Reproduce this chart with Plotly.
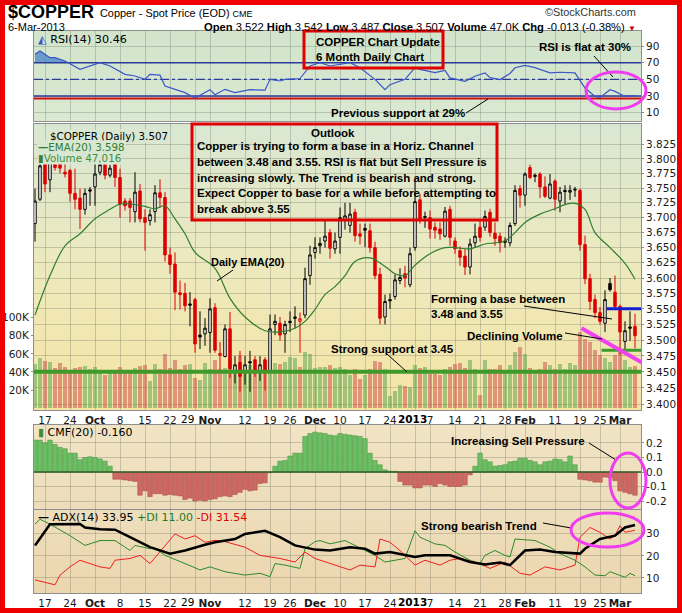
import math
import plotly.graph_objects as go

# ---------------- figure geometry (pixels) ----------------
W, H = 682, 613
PL, PR = 34, 641
PW = PR - PL


def fx(px):
    return (px - PL) / PW


def fy(py):
    return 1 - py / H


# ---------------- data ----------------
FIRST_DAY = -2  # trading-day index of Sep 13 2012 (index 0 = Sep 17 2012)

opens = [3.690, 3.731, 3.800, 3.764, 3.800, 3.797, 3.777, 3.780, 3.741, 3.733,
         3.714, 3.747, 3.752, 3.777, 3.790, 3.772, 3.791, 3.768, 3.728, 3.728,
         3.710, 3.745, 3.700, 3.695, 3.710, 3.742, 3.734, 3.638, 3.623, 3.576,
         3.575, 3.558, 3.565, 3.508, 3.510, 3.512, 3.552, 3.476, 3.474, 3.518,
         3.452, 3.465, 3.452, 3.466, 3.469, 3.452, 3.469, 3.452, 3.525, 3.527,
         3.510, 3.530, 3.537, 3.530, 3.540, 3.604, 3.642, 3.653, 3.661, 3.675,
         3.648, 3.667, 3.695, 3.687, 3.709, 3.673, 3.682, 3.678, 3.650, 3.606,
         3.537, 3.565, 3.570, 3.596, 3.607, 3.589, 3.650, 3.730, 3.700, 3.700,
         3.684, 3.681, 3.669, 3.714, 3.661, 3.645, 3.636, 3.618, 3.658, 3.684,
         3.684, 3.709, 3.674, 3.669, 3.661, 3.658, 3.690, 3.749, 3.738, 3.785,
         3.772, 3.774, 3.752, 3.733, 3.762, 3.728, 3.746, 3.743, 3.748, 3.746,
         3.655, 3.599, 3.565, 3.544, 3.527, 3.591, 3.577, 3.554, 3.498, 3.521,
         3.522]
highs = [3.749, 3.810, 3.815, 3.805, 3.815, 3.810, 3.800, 3.783, 3.783, 3.749,
         3.749, 3.752, 3.791, 3.805, 3.805, 3.790, 3.808, 3.783, 3.733, 3.733,
         3.777, 3.757, 3.714, 3.714, 3.755, 3.765, 3.743, 3.650, 3.642, 3.596,
         3.592, 3.577, 3.568, 3.546, 3.535, 3.567, 3.559, 3.497, 3.525, 3.545,
         3.475, 3.483, 3.475, 3.483, 3.475, 3.475, 3.473, 3.541, 3.541, 3.537,
         3.531, 3.546, 3.554, 3.544, 3.617, 3.653, 3.667, 3.667, 3.695, 3.681,
         3.675, 3.717, 3.725, 3.725, 3.715, 3.690, 3.690, 3.690, 3.660, 3.617,
         3.573, 3.575, 3.606, 3.616, 3.620, 3.650, 3.762, 3.740, 3.710, 3.712,
         3.692, 3.692, 3.718, 3.720, 3.667, 3.652, 3.648, 3.665, 3.690, 3.697,
         3.712, 3.715, 3.692, 3.675, 3.667, 3.692, 3.755, 3.755, 3.777, 3.790,
         3.775, 3.777, 3.770, 3.774, 3.765, 3.752, 3.755, 3.755, 3.752, 3.749,
         3.670, 3.607, 3.573, 3.553, 3.580, 3.600, 3.604, 3.557, 3.530, 3.546,
         3.542]
lows = [3.660, 3.728, 3.743, 3.743, 3.780, 3.775, 3.768, 3.727, 3.714, 3.681,
        3.705, 3.720, 3.720, 3.772, 3.765, 3.768, 3.752, 3.700, 3.712, 3.692,
        3.692, 3.692, 3.645, 3.687, 3.692, 3.717, 3.627, 3.607, 3.548, 3.549,
        3.546, 3.522, 3.480, 3.486, 3.491, 3.480, 3.480, 3.452, 3.473, 3.440,
        3.432, 3.419, 3.430, 3.419, 3.442, 3.436, 3.421, 3.450, 3.508, 3.499,
        3.480, 3.513, 3.519, 3.480, 3.535, 3.589, 3.632, 3.640, 3.650, 3.632,
        3.640, 3.640, 3.680, 3.675, 3.660, 3.655, 3.651, 3.642, 3.598, 3.525,
        3.525, 3.550, 3.565, 3.590, 3.585, 3.585, 3.645, 3.690, 3.683, 3.665,
        3.665, 3.663, 3.667, 3.653, 3.640, 3.620, 3.605, 3.606, 3.650, 3.660,
        3.678, 3.668, 3.653, 3.642, 3.650, 3.652, 3.686, 3.717, 3.720, 3.765,
        3.760, 3.733, 3.733, 3.731, 3.712, 3.709, 3.723, 3.730, 3.735, 3.645,
        3.590, 3.548, 3.535, 3.525, 3.513, 3.578, 3.548, 3.477, 3.486, 3.499,
        3.487]
closes = [3.728, 3.788, 3.757, 3.795, 3.785, 3.784, 3.774, 3.741, 3.731, 3.714,
          3.741, 3.745, 3.774, 3.790, 3.772, 3.784, 3.768, 3.723, 3.720, 3.717,
          3.743, 3.698, 3.692, 3.705, 3.742, 3.734, 3.638, 3.622, 3.577, 3.573,
          3.555, 3.556, 3.494, 3.505, 3.519, 3.550, 3.484, 3.479, 3.518, 3.455,
          3.461, 3.443, 3.461, 3.464, 3.452, 3.461, 3.452, 3.518, 3.530, 3.508,
          3.525, 3.528, 3.535, 3.534, 3.599, 3.638, 3.650, 3.657, 3.669, 3.649,
          3.661, 3.700, 3.703, 3.706, 3.670, 3.669, 3.679, 3.650, 3.604, 3.535,
          3.562, 3.563, 3.597, 3.601, 3.600, 3.640, 3.727, 3.698, 3.702, 3.681,
          3.679, 3.673, 3.711, 3.667, 3.648, 3.634, 3.618, 3.656, 3.669, 3.667,
          3.702, 3.675, 3.665, 3.658, 3.659, 3.687, 3.746, 3.738, 3.774, 3.768,
          3.770, 3.752, 3.736, 3.757, 3.731, 3.743, 3.744, 3.746, 3.747, 3.655,
          3.599, 3.562, 3.544, 3.530, 3.565, 3.581, 3.554, 3.513, 3.515, 3.519,
          3.507]
volume_k = [48.6, 56, 52, 50.5, 44.6, 49.4, 45.7, 42, 43.9, 45.7,
            46.8, 42.8, 45, 40, 36.5, 40, 38.4, 45.7, 42, 42,
            43.9, 46.4, 47.5, 30, 48.3, 42.8, 60.4, 44, 53.8, 43,
            47.5, 48.3, 33.6, 31, 50, 42.8, 53, 42.8, 44, 56.7,
            43, 58.5, 43, 47.5, 43, 42, 53, 53.8, 50, 48.6,
            51, 56.7, 55, 45.7, 62, 59.6, 44, 45, 46, 47.5,
            44, 45, 42.8, 36.5, 43, 31.8, 36.5, 42.8, 52, 51,
            42.8, 13.4, 19.3, 25.5, 24.4, 23.7, 47.5, 43.9, 45, 37.6,
            37.6, 36.5, 42.8, 45.8, 48.3, 49.4, 43.9, 53.8, 43, 14.5,
            53.8, 43, 43, 47.5, 42, 47.5, 62, 67.7, 59.6, 43.9,
            42, 43, 51, 47.5, 42.8, 48.6, 43, 49.4, 47.5, 84,
            77, 73, 64, 58.5, 56, 51, 58.5, 64.8, 53.8, 45.8,
            47.0]
cmf20 = [0.22, 0.22, 0.20, 0.22, 0.19, 0.17, 0.16, 0.13, 0.13, 0.085,
         0.10, 0.105, 0.10, 0.09, 0.075, 0.04, -0.05, -0.05, -0.055, -0.06,
         -0.065, -0.16, -0.13, -0.17, -0.15, -0.15, -0.16, -0.155, -0.16, -0.165,
         -0.19, -0.18, -0.20, -0.195, -0.20, -0.19, -0.185, -0.17, -0.165, -0.17,
         -0.155, -0.14, -0.12, -0.13, -0.125, -0.08, -0.075, -0.005, 0.04, 0.075,
         0.08, 0.11, 0.13, 0.13, 0.245, 0.265, 0.275, 0.27, 0.265, 0.255,
         0.25, 0.265, 0.26, 0.255, 0.25, 0.245, 0.23, 0.13, 0.08, 0.05,
         0.015, 0.005, 0.005, -0.065, -0.09, -0.09, -0.11, -0.11, -0.09, -0.09,
         -0.10, -0.08, -0.09, -0.10, -0.10, -0.10, -0.09, -0.02, 0.04, 0.13,
         0.085, 0.07, 0.04, 0.045, 0.05, 0.07, 0.075, 0.095, 0.095, 0.08,
         0.07, 0.05, 0.07, 0.075, 0.09, 0.085, 0.07, 0.11, 0.05, -0.05,
         -0.055, -0.06, -0.07, -0.07, -0.035, -0.04, -0.06, -0.13, -0.14, -0.15,
         -0.16]

ema_days = [-2, 1, 4, 7, 10, 13, 15, 17, 20, 22, 24, 26, 28, 30, 34, 37, 40, 44, 47, 50,
            52, 54, 56, 58, 60, 62, 65, 68, 70, 72, 74, 77, 80, 82, 85, 88, 90, 92, 94, 96,
            99, 102, 104, 106, 108, 110, 113, 116, 118]
ema_vals = [3.540, 3.604, 3.653, 3.673, 3.698, 3.714, 3.723, 3.723, 3.719, 3.715,
            3.720, 3.698, 3.673, 3.642, 3.616, 3.567, 3.537, 3.515, 3.513, 3.519,
            3.530, 3.549, 3.573, 3.586, 3.604, 3.627, 3.633, 3.619, 3.607, 3.604,
            3.621, 3.640, 3.650, 3.650, 3.648, 3.656, 3.658, 3.661, 3.675, 3.692,
            3.706, 3.715, 3.722, 3.724, 3.714, 3.675, 3.650, 3.624, 3.598]

rsi_days = [-2, -1, 1, 2, 4, 7, 11, 13, 16, 18, 20, 21, 23, 24, 28, 30, 33, 34, 36, 38,
            41, 44, 45, 47, 48, 51, 53, 55, 57, 61, 63, 66, 68, 69, 72, 74, 75, 78, 80, 81,
            84, 86, 88, 89, 91, 93, 94, 96, 98, 101, 103, 106, 108, 110, 111, 113, 114, 116, 118]
rsi_vals = [80, 84, 76, 76, 72, 62, 70, 66, 56, 54, 50, 56, 55, 42, 34, 27.5, 37.6, 31.5, 38, 34,
            37.6, 37, 50, 48, 50, 51, 66, 70, 66, 70, 64, 50, 37.6, 43.6, 50, 64, 62, 58, 60.6, 51.7,
            47.6, 53.7, 57.8, 52, 49.7, 57, 63.9, 66.7, 64, 57.8, 58.5, 57.8, 39.6, 29.5, 28, 37.6,
            35.5, 29.5, 30.46]

adx_days = [-2, 1, 7, 8, 11, 14, 17, 21, 25, 28, 32, 34, 38, 40, 44, 47, 50, 54, 57, 61,
            64, 66, 69, 73, 74, 76, 81, 85, 88, 91, 93, 96, 99, 102, 107, 108, 111, 114, 116, 118]
adx_vals = [24.7, 34.3, 34.4, 32.8, 32, 31.8, 28.4, 23.9, 21, 22.4, 25, 26.1, 27.6, 29.9, 31.3,
            28.4, 24.7, 22.8, 22.4, 23.9, 23.2, 21, 21.7, 20.2, 19.5, 20.2, 20.2, 17.2, 16.1, 17,
            15.8, 22.4, 22.8, 21.7, 21, 23.2, 27.6, 29.1, 32.8, 33.95]
pdi_days = [-2, -1, 1, 5, 8, 11, 14, 15, 17, 18, 21, 22, 24, 28, 31, 33, 36, 40, 43, 45,
            46, 48, 51, 52, 54, 55, 57, 60, 62, 66, 68, 70, 72, 74, 75, 78, 80, 82, 85, 87,
            88, 90, 92, 93, 94, 98, 101, 103, 106, 108, 110, 112, 113, 116, 117, 118]
pdi_vals = [34.3, 36.5, 34.3, 29.1, 24.7, 26.9, 26.9, 25.4, 22.4, 24.7, 23.2, 23.5, 20.2, 16.5,
            13.6, 15, 12.8, 11.3, 12.1, 10.6, 16.5, 15.8, 14.3, 23.2, 26.4, 26.9, 25.4, 26.9,
            24.7, 20.2, 17.2, 18, 18.8, 31.3, 28.4, 25.4, 24.7, 21.7, 18, 16.5, 20.2, 22.4, 20.2,
            19.5, 27.6, 26.9, 23.9, 21, 18, 15, 11.3, 11, 12.8, 10.3, 12.1, 11.0]
mdi_days = [-2, 2, 3, 5, 7, 11, 13, 14, 17, 19, 21, 24, 26, 28, 30, 32, 34, 36, 40, 43,
            47, 50, 52, 54, 57, 61, 63, 66, 67, 69, 71, 74, 76, 79, 81, 83, 87, 89, 92, 95,
            97, 100, 103, 106, 107, 109, 111, 113, 114, 115, 116, 118]
mdi_vals = [9.1, 6.9, 11.3, 15, 18, 15, 14.3, 18, 18.8, 20.2, 16.5, 24.7, 29.9, 27.6, 29.1,
            26.1, 27, 26.4, 23.9, 20.2, 18.8, 17.2, 21.7, 18.8, 16.5, 13.6, 15.8, 15, 27.6, 26.1,
            22.4, 15.8, 18, 15.8, 18, 18.8, 16.5, 14.3, 17.2, 12.1, 11.3, 15, 13.6, 15.8, 28.4,
            32.8, 30.6, 27.6, 29.1, 33.6, 30.6, 31.54]

tick_days = [0, 5, 10, 15, 20, 25, 30, 33, 40, 45, 49, 54, 59, 64, 69, 74, 77, 82, 87, 92,
             96, 102, 107, 111, 115]
tick_labels = ['17', '24', '<b>Oct</b>', '8', '15', '22', '', '<b>Nov</b>', '12', '19', '26',
               '<b>Dec</b>', '10', '17', '24', '', '7', '14', '21', '28', '<b>Feb</b>', '11',
               '19', '25', '<b>Mar</b>']
shifted_labels = [(28.4, '29'), (73.5, '<b>2013</b>')]

price_ticks = [3.400, 3.425, 3.450, 3.475, 3.500, 3.525, 3.550, 3.575, 3.600, 3.625,
               3.650, 3.675, 3.700, 3.725, 3.750, 3.775, 3.800, 3.825]
support_level = 3.45
base_low, base_high = 3.484, 3.55
decline_days, decline_vals = [107.3, 119.3], [3.519, 3.465]

# ---------------- derived ----------------
days = list(range(FIRST_DAY, FIRST_DAY + len(closes)))
up = [True] + [closes[i] >= closes[i - 1] for i in range(1, len(closes))]
XR = [-2.2, 119.2]

SANS = 'Liberation Sans, Arial, sans-serif'
VERD = 'DejaVu Sans, Verdana, sans-serif'

fig = go.Figure()


def pick(lst, idx):
    return [lst[i] for i in idx]


# RSI panel
rsi_fill_n = 5
fig.add_trace(go.Scatter(x=rsi_days[:rsi_fill_n], y=[70] * rsi_fill_n, mode='lines',
                         line=dict(width=0), xaxis='x', yaxis='y', hoverinfo='skip', showlegend=False))
fig.add_trace(go.Scatter(x=rsi_days[:rsi_fill_n], y=rsi_vals[:rsi_fill_n], mode='lines',
                         line=dict(width=0), fill='tonexty', fillcolor='rgba(70,130,200,0.75)',
                         xaxis='x', yaxis='y', hoverinfo='skip', showlegend=False))
for lvl, col, dash, wd in [(70, '#2c3a9c', 'solid', 1.5), (30, '#2c3a9c', 'solid', 1.5),
                           (50, '#2c3a9c', 'dashdot', 1.2), (27, '#d01010', 'solid', 2)]:
    fig.add_trace(go.Scatter(x=XR, y=[lvl, lvl], mode='lines', line=dict(color=col, width=wd, dash=dash),
                             xaxis='x', yaxis='y', hoverinfo='skip', showlegend=False))
fig.add_trace(go.Scatter(x=rsi_days, y=rsi_vals, mode='lines', line=dict(color='#3a56c8', width=1.2),
                         xaxis='x', yaxis='y', hoverinfo='skip', showlegend=False))

# volume
vol_colors = ['rgba(92,165,84,0.55)' if u else 'rgba(205,82,82,0.55)' for u in up]
fig.add_trace(go.Bar(x=days, y=volume_k, width=0.86, marker=dict(color=vol_colors, line=dict(width=0)),
                     xaxis='x2', yaxis='y2', hoverinfo='skip', showlegend=False))

# price
fig.add_trace(go.Scatter(x=ema_days, y=ema_vals, mode='lines', line=dict(color='#2f7d2f', width=1.2, shape='spline'),
                         xaxis='x2', yaxis='y5', hoverinfo='skip', showlegend=False))
blk = [i for i in range(len(days)) if up[i]]
red = [i for i in range(len(days)) if not up[i]]
fig.add_trace(go.Candlestick(x=pick(days, blk), open=pick(opens, blk), high=pick(highs, blk),
                             low=pick(lows, blk), close=pick(closes, blk), whiskerwidth=0,
                             increasing=dict(line=dict(color='#000000', width=1), fillcolor='#ffffff'),
                             decreasing=dict(line=dict(color='#000000', width=1), fillcolor='#000000'),
                             xaxis='x2', yaxis='y5', hoverinfo='skip', showlegend=False))
fig.add_trace(go.Candlestick(x=pick(days, red), open=pick(opens, red), high=pick(highs, red),
                             low=pick(lows, red), close=pick(closes, red), whiskerwidth=0,
                             increasing=dict(line=dict(color='#dd0000', width=1), fillcolor='#ffffff'),
                             decreasing=dict(line=dict(color='#dd0000', width=1), fillcolor='#dd0000'),
                             xaxis='x2', yaxis='y5', hoverinfo='skip', showlegend=False))
fig.add_trace(go.Scatter(x=XR, y=[support_level] * 2, mode='lines', line=dict(color='#3f9a2a', width=4),
                         xaxis='x2', yaxis='y5', hoverinfo='skip', showlegend=False))
fig.add_trace(go.Scatter(x=[111.3, 119.3], y=[base_low] * 2, mode='lines', line=dict(color='#3f9a2a', width=3),
                         xaxis='x2', yaxis='y5', hoverinfo='skip', showlegend=False))
fig.add_trace(go.Scatter(x=[112.3, 119.3], y=[base_high] * 2, mode='lines', line=dict(color='#1020d0', width=3),
                         xaxis='x2', yaxis='y5', hoverinfo='skip', showlegend=False))
fig.add_trace(go.Scatter(x=decline_days, y=decline_vals, mode='lines', line=dict(color='#f040f0', width=4),
                         xaxis='x2', yaxis='y5', hoverinfo='skip', showlegend=False))

# CMF
cmf_fill = ['#6cbf64' if v >= 0 else '#cd6a64' for v in cmf20]
cmf_edge = ['#3f8f3a' if v >= 0 else '#a8463f' for v in cmf20]
fig.add_trace(go.Bar(x=days, y=cmf20, width=0.9, marker=dict(color=cmf_fill, line=dict(color=cmf_edge, width=0.5)),
                     xaxis='x3', yaxis='y3', hoverinfo='skip', showlegend=False))
fig.add_trace(go.Scatter(x=XR, y=[0, 0], mode='lines', line=dict(color='#2f5e2a', width=1.5),
                         xaxis='x3', yaxis='y3', hoverinfo='skip', showlegend=False))

# ADX
fig.add_trace(go.Scatter(x=pdi_days, y=pdi_vals, mode='lines', line=dict(color='#2b8a2b', width=1),
                         xaxis='x4', yaxis='y4', hoverinfo='skip', showlegend=False))
fig.add_trace(go.Scatter(x=mdi_days, y=mdi_vals, mode='lines', line=dict(color='#f02020', width=1),
                         xaxis='x4', yaxis='y4', hoverinfo='skip', showlegend=False))
fig.add_trace(go.Scatter(x=adx_days, y=adx_vals, mode='lines', line=dict(color='#000000', width=2.5),
                         xaxis='x4', yaxis='y4', hoverinfo='skip', showlegend=False))

# ---------------- backgrounds ----------------
shapes = []


def lerp(c1, c2, t):
    return tuple(round(a + (b - a) * t) for a, b in zip(c1, c2))


def gradient(y_top, y_bot, stops, step=3):
    y = y_top
    while y < y_bot:
        yb = min(y + step, y_bot)
        ym = (y + yb) / 2
        col = stops[-1][1]
        for (y0, c0), (y1, c1) in zip(stops, stops[1:]):
            if ym <= y1:
                col = lerp(c0, c1, (ym - y0) / (y1 - y0))
                break
        shapes.append(dict(type='rect', xref='paper', yref='paper', x0=0, x1=1,
                           y0=fy(yb + 0.5), y1=fy(y), fillcolor='rgb(%d,%d,%d)' % col,
                           line=dict(width=0), layer='below'))
        y = yb


gradient(31, 121, [(31, (210, 228, 203)), (121, (218, 233, 210))])
gradient(124, 410, [(124, (217, 231, 210)), (265, (237, 233, 190)), (410, (246, 228, 163))])
gradient(425, 509, [(425, (241, 228, 196)), (509, (237, 221, 186))])
gradient(510, 593, [(510, (239, 222, 188)), (593, (235, 214, 174))])

# ---------------- annotations ----------------
anns = []


def text(s, x, y, size=11.5, color='#000000', family=SANS, xanchor='left', bg=None):
    d = dict(text=s, x=fx(x), y=fy(y), xref='paper', yref='paper', xanchor=xanchor, yanchor='middle',
             showarrow=False, font=dict(size=size, color=color, family=family), borderpad=0)
    if bg:
        d['bgcolor'] = bg
    anns.append(d)


def seg(x0, y0, x1, y1, color='#000000', width=1):
    shapes.append(dict(type='line', xref='paper', yref='paper', x0=fx(x0), y0=fy(y0), x1=fx(x1), y1=fy(y1),
                       line=dict(color=color, width=width)))


def box(x0, y0, x1, y1, color='#e00000', width=3):
    shapes.append(dict(type='rect', xref='paper', yref='paper', x0=fx(x0), y0=fy(y1), x1=fx(x1), y1=fy(y0),
                       line=dict(color=color, width=width)))


def ellipse(x0, y0, x1, y1):
    shapes.append(dict(type='circle', xref='paper', yref='paper', x0=fx(x0), y0=fy(y1), x1=fx(x1), y1=fy(y0),
                       line=dict(color='#f03cf0', width=3)))


# header
text('<b>$COPPER</b>', 7, 12, size=18)
text('Copper - Spot Price (EOD) <span style="font-size:9px">CME</span>', 99, 13, size=10.9)
text('©StockCharts.com', 637, 12, size=10.9, color='#333333', xanchor='right')
text('6-Mar-2013', 7, 27.5, size=11)
text('<b>Open</b> 3.522 <b>High</b> 3.542 <b>Low</b> 3.487 <b>Close</b> 3.507 <b>Volume</b> 47.0K '
     '<b>Chg</b> -0.013 (-0.38%) <span style="color:#c00000;font-size:8px">▼</span>',
     637, 27.5, size=11.2, xanchor='right')

# panel legends
text('<span style="color:#3a56c8">◭</span> RSI(14) 30.46', 37, 39, size=11.2, family=VERD)
LBG = 'rgb(217,231,210)'
text('$COPPER (Daily) 3.507', 49, 136.5, size=10.3, family=VERD, bg=LBG)
text('<b>—</b>EMA(20) 3.598', 37, 147, size=10.3, family=VERD, color='#2f7d2f', bg=LBG)
text('<span style="color:#3f7f3a">▮</span>Volume 47,016', 37, 157.5, size=10.3, family=VERD, color='#3f8f3a', bg=LBG)
text('<span style="color:#3f8f3a">▮</span> CMF(20) -0.160', 37, 432, size=11, family=VERD)
text('<b>—</b> ADX(14) 33.95 <span style="color:#1e7a1e">+DI 11.00</span> <span style="color:#e00000">-DI 31.54</span>',
     37, 517, size=11, family=VERD)

# RSI notes
box(304, 31, 443, 68)
text('<b>COPPER Chart Update</b>', 315, 42)
text('<b>6 Month Daily Chart</b>', 315, 57)
text('<b>RSI is flat at 30%</b>', 538, 47)
seg(594, 56, 613, 77)
ellipse(586, 72, 646, 109)
text('<b>Previous support at 29%</b>', 330, 113)
seg(466, 113, 488, 99)

# Outlook box
box(192, 124, 497, 220)
text('<b>Outlook</b>', 310, 133)
outlook = ['Copper is trying to form a base in a Horiz. Channel',
           'between 3.48 and 3.55. RSI is flat but Sell Pressure is',
           'increasing slowly. The Trend is bearish and strong.',
           'Expect Copper to base for a while before attempting to',
           'break above 3.55']
for i, line in enumerate(outlook):
    text('<b>%s</b>' % line, 196, 146 + i * 15.8)

# main panel notes
text('<b>Daily EMA(20)</b>', 210, 262, size=11)
seg(233, 270, 217, 281)
text('<b>Forming a base between</b>', 430, 299)
text('<b>3.48 and 3.55</b>', 430, 314)
seg(524, 306, 612, 319)
text('<b>Declining Volume</b>', 466, 336)
seg(565, 333, 602, 339)
text('<b>Strong support at 3.45</b>', 330, 349)
seg(387, 354, 407, 372)

# CMF / ADX notes
text('<b>Increasing Sell Pressure</b>', 450, 441)
seg(589, 443, 616, 460)
ellipse(610, 453, 646, 508)
text('<b>Strong bearish Trend</b>', 420, 526)
seg(543, 523, 571, 528)
ellipse(571, 513, 644, 547)

# shifted date labels
for d, s in shifted_labels:
    px = 45 + 5 * d
    text(s, px, 419, size=10.5, family=VERD, xanchor='center')
    text(s, px, 602, size=10.5, family=VERD, xanchor='center')

# red outer frame
shapes.append(dict(type='rect', xref='paper', yref='paper', x0=fx(2.5), x1=fx(679.5), y0=fy(610.5), y1=fy(2.5),
                   line=dict(color='#ee0000', width=5)))

# ---------------- axes ----------------
AX_FONT = dict(family=VERD, size=10.5, color='#1a1a1a')
GRID = 'rgba(100,110,95,0.30)'
FRAME = '#8e8e8e'


def xaxis(anchor, labels):
    return dict(range=XR, domain=[0, 1], anchor=anchor, tickmode='array', tickvals=tick_days,
                ticktext=tick_labels, showticklabels=labels, tickangle=0, showgrid=True, gridcolor=GRID,
                gridwidth=1, zeroline=False, showline=True, mirror=True, linecolor=FRAME, linewidth=1,
                ticks='', tickfont=AX_FONT, fixedrange=True, rangeslider=dict(visible=False))


def yaxis(domain, rng, vals, txt, anchor, side='right', grid=True, **kw):
    d = dict(domain=domain, range=rng, tickmode='array', tickvals=vals, ticktext=txt, anchor=anchor,
             side=side, showgrid=grid, gridcolor=GRID, gridwidth=1, zeroline=False, showline=True,
             mirror=True, linecolor=FRAME, linewidth=1, ticks='outside', ticklen=2, tickcolor=FRAME,
             tickfont=AX_FONT, fixedrange=True)
    d.update(kw)
    return d


fig.update_layout(
    width=W, height=H,
    margin=dict(l=PL, r=W - PR, t=0, b=0),
    paper_bgcolor='#ffffff', plot_bgcolor='rgba(0,0,0,0)',
    showlegend=False, bargap=0, barmode='overlay', dragmode=False,
    xaxis=xaxis('y', False),
    xaxis2=xaxis('y2', True),
    xaxis3=xaxis('y3', False),
    xaxis4=xaxis('y4', True),
    yaxis=yaxis([fy(121), fy(31)], [0, 108], [10, 30, 50, 70, 90], ['10', '30', '50', '70', '90'], 'x'),
    yaxis2=yaxis([fy(410), fy(124)], [-2, 314], [20, 40, 60, 80, 100],
                 ['20K', '40K', '60K', '80K', '100K'], 'x2', side='left', grid=False),
    yaxis5=dict(overlaying='y2', anchor='x2', side='right', type='log',
                range=[math.log10(3.3908), math.log10(3.8606)], tickmode='array', tickvals=price_ticks,
                ticktext=['%.3f' % p for p in price_ticks], showgrid=True, gridcolor=GRID, gridwidth=1,
                zeroline=False, showline=False, ticks='outside', ticklen=2, tickcolor=FRAME,
                tickfont=AX_FONT, fixedrange=True),
    yaxis3=yaxis([fy(509), fy(425)], [-0.255, 0.324], [-0.2, -0.1, 0, 0.1, 0.2],
                 ['-0.2', '-0.1', '0.0', '0.1', '0.2'], 'x3'),
    yaxis4=yaxis([fy(593), fy(510)], [3.2, 40.7], [10, 20, 30], ['10', '20', '30'], 'x4'),
    shapes=shapes,
    annotations=anns,
)

fig.write_html('out.html', config={'displayModeBar': False, 'staticPlot': True},
               post_script="document.body.style.margin='0';document.body.style.overflow='hidden';")
